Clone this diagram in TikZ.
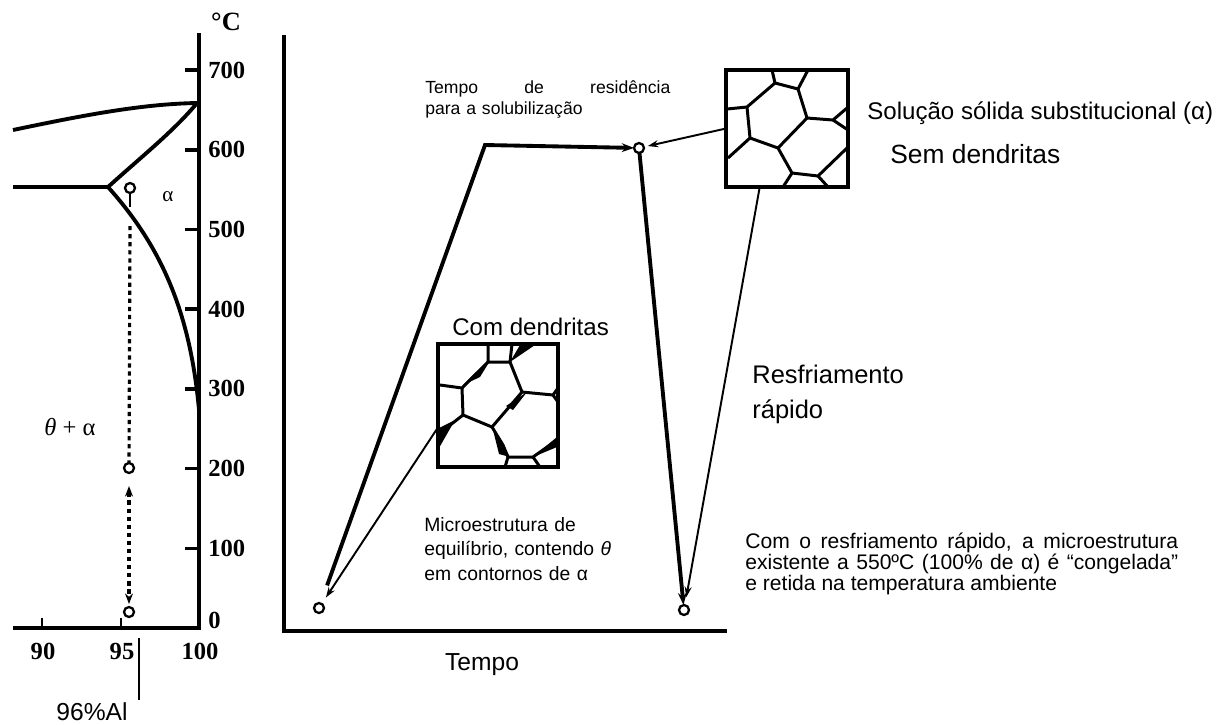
\documentclass[tikz,border=0pt]{standalone}
\usepackage{fontspec}
\setmainfont{Liberation Sans}
\newfontfamily\serfont{Liberation Serif}
\usetikzlibrary{arrows.meta}

\begin{document}
\begin{tikzpicture}[x=0.02cm,y=-0.02cm,
    heavy/.style={line width=2.2pt},
    fine/.style={line width=1.1pt},
    axis/.style={line width=2pt},
    dots/.style={line width=1.8pt,dash pattern=on 2.4pt off 2.2pt},
    dot/.style={circle,draw,line width=1.3pt,minimum size=0.2cm,inner sep=0pt,outer sep=0pt},
    grainbox/.style={draw,line width=2.2pt,inner sep=0pt,outer sep=0pt},
    gb/.style={line width=1.7pt,line join=round},
    num/.style={font=\serfont\bfseries\fontsize{14}{14}\selectfont,inner sep=0pt},
    tip/.style={-{Stealth[length=7pt,width=5pt]}},
    thintip/.style={-{Stealth[length=6pt,width=4pt]}}]

\useasboundingbox (0,0) rectangle (1226,724);

% phase diagram
\draw[axis] (13,628) -- (199,628) -- (199,33);
\foreach \t in {1,...,7}{
    \draw[axis] (185,628-79.7*\t) -- (199,628-79.7*\t);
    \node[num,anchor=west] (tc\t) at (208,628-79.7*\t) {\t00};
}
\node[num,anchor=west] (tc0) at (208,620) {0};
\node[num,font=\serfont\bfseries\fontsize{15}{15}\selectfont] (unit) at (226,22) {°C};
\foreach \p/\x in {90/42,95/121}
    \draw[fine] (\x,628) -- (\x,618);
\foreach \p/\x in {90/43,95/122,100/200}
    \node[num] (xc\p) at (\x,651) {\p};

\draw[heavy] (13,130) .. controls (80,116) and (140,104) .. (197,103);
\draw[heavy] (13,187) -- (108,187);
\draw[heavy] (108,187) .. controls (140,158) and (175,130) .. (197,103);
\draw[heavy] (108,187) .. controls (160,245) and (190,310) .. (199,410);

\node[dot] (pa) at (130,188) {};
\node[dot] (pb) at (129,468) {};
\node[dot] (pc) at (129,612) {};
\coordinate (pa1) at (130,207);
\coordinate (da) at (130,226);
\draw[fine] (pa) -- (pa1);
\draw[dots] (da) -- (pb);
\draw[dots,{Stealth[length=6pt,width=4.5pt]}-{Stealth[length=6pt,width=4.5pt]},shorten <=0.26cm,shorten >=0.06cm] (pb) -- (pc);

\node[font=\serfont\fontsize{12}{12}\selectfont] (alpha) at (168,197) {α};
\node[font=\serfont\fontsize{14}{14}\selectfont] (twophase) at (70,427) {\textit{θ} + α};

\coordinate (al1) at (139,638);
\coordinate (al2) at (139,700);
\draw[fine] (al1) -- (al2);
\node[font=\fontsize{14}{14}\selectfont] (alloy) at (92,712) {96\%Al};

% heat treatment
\draw[axis] (284,35) -- (284,631) -- (727,631);
\node[font=\fontsize{14}{14}\selectfont] (tlabel) at (482,665) {Tempo};

\node[dot] (s0) at (319,608) {};
\node[dot] (hold) at (639,148) {};
\node[dot] (qs) at (684,610) {};
\coordinate (c1) at (485,145);
\draw[heavy,tip,shorten <=0.38cm] (s0) -- (c1) -- (hold);
\draw[heavy,tip] (hold) -- (qs);

% microstructures
\node[grainbox,minimum width=2.4cm,minimum height=2.46cm] (box1) at (498,405.5) {};
\node[grainbox,minimum width=2.44cm,minimum height=2.34cm] (box2) at (787,128.5) {};

\draw[gb] (488,344) -- (488,362) -- (510,362) -- (512,344);
\draw[gb] (488,362) -- (462,388) -- (440,385);
\draw[gb] (462,388) -- (463,415) -- (492,427);
\draw[gb] (463,415) -- (440,433);
\draw[gb] (510,362) -- (522,392) -- (553,395) -- (558,388);
\draw[gb] (553,395) -- (558,402);
\draw[gb] (522,392) -- (492,427) -- (503,445) -- (508,457) -- (533,457) -- (557,440);
\draw[gb] (508,457) -- (505,467);
\draw[gb] (533,457) -- (540,467);
\fill (510,362) -- (520,345) -- (535,345) -- cycle;
\fill (463,385) -- (475,373) -- (488,364) -- (480,377) -- cycle;
\fill (527,392) -- (506,406) -- (513,410) -- cycle;
\fill (439,428) -- (455,420) -- (439,448) -- cycle;
\fill (493,430) -- (510,457) -- (499,454) -- cycle;
\fill (533,457) -- (557,437) -- (557,447) -- cycle;

\draw[gb] (772,70) -- (775,83) -- (798,89) -- (808,70);
\draw[gb] (775,83) -- (747,107) -- (727,109);
\draw[gb] (747,107) -- (750,138) -- (728,158);
\draw[gb] (750,138) -- (778,148) -- (807,118) -- (798,89);
\draw[gb] (807,118) -- (833,120) -- (847,108);
\draw[gb] (833,120) -- (848,130);
\draw[gb] (778,148) -- (792,173) -- (818,176) -- (847,148);
\draw[gb] (818,176) -- (828,187);
\draw[gb] (792,173) -- (783,187);

\draw[fine,thintip,shorten >=0.15cm] (box1.200) -- (s0);
\draw[fine,thintip,shorten >=0.08cm] (box2.west) -- (hold);
\draw[fine,thintip,shorten >=0.16cm] (box2.245) -- (qs);

% texts
\node[anchor=base west,inner sep=0pt,text width=4.9cm,font=\fontsize{10}{12.2}\selectfont] (restext) at (425,93.5)
    {Tempo\hfill de\hfill residência\\para a solubilização};
\node[anchor=base west,inner sep=0pt,font=\fontsize{13.7}{16}\selectfont] (soltext) at (867,119)
    {Solução sólida substitucional (α)};
\node[anchor=base west,inner sep=0pt,font=\fontsize{15}{16}\selectfont] (semtext) at (890,163) {Sem dendritas};
\node[anchor=base west,inner sep=0pt,font=\fontsize{13.7}{16}\selectfont] (comtext) at (452,335) {Com dendritas};
\node[anchor=base west,inner sep=0pt,text width=4cm,font=\fontsize{14.5}{20}\selectfont] (cooltext) at (752,383)
    {Resfriamento\\rápido};
\node[anchor=base west,inner sep=0pt,text width=5cm,font=\fontsize{11}{14}\selectfont] (eqtext) at (424,531)
    {Microestrutura de\\equilíbrio, contendo \textit{θ}\\em contornos de α};
\node[anchor=base west,inner sep=0pt,text width=8.66cm,align=justify,
    font={\fontsize{12}{12.2}\selectfont\tolerance=9000\hyphenpenalty=10000}] (quenchtext) at (745,548)
    {Com o resfriamento rápido, a microestrutura\linebreak existente a 550ºC (100\% de α) é “congelada”\linebreak e retida na temperatura ambiente};
\end{tikzpicture}
\end{document}
